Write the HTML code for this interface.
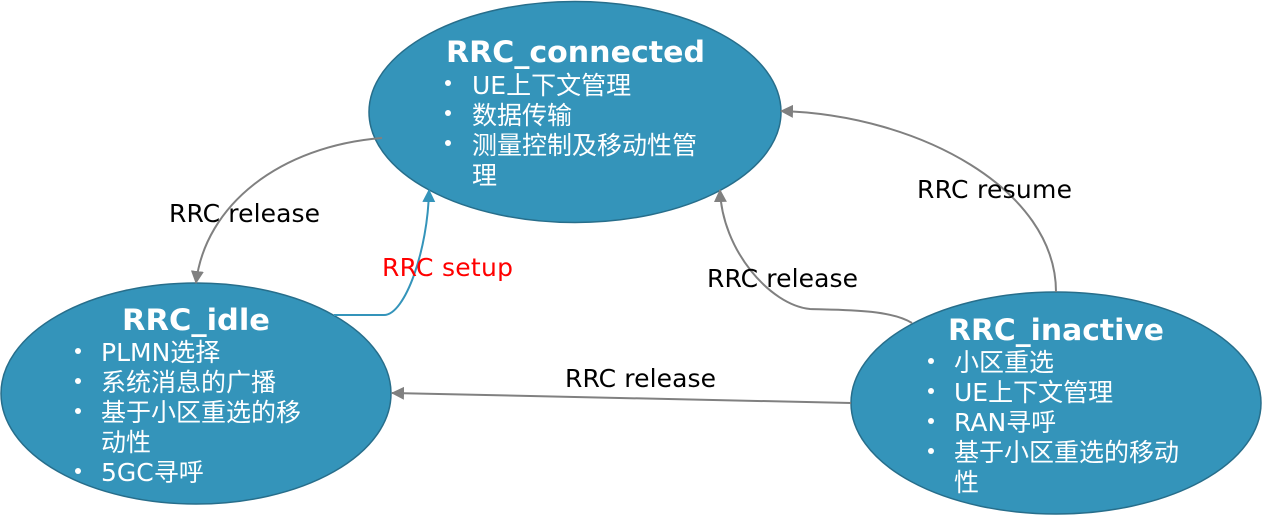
<!DOCTYPE html>
<html><head><meta charset="utf-8"><style>
html,body{margin:0;padding:0;background:#fff}
svg{display:block}
text{font-family:"DejaVu Sans","Noto Sans CJK SC",sans-serif;font-size:25px}
.t{fill:#fff;font-weight:bold;font-size:29.500px}
.b{fill:#fff}
.l{fill:#000}
</style></head><body>
<svg width="1262" height="515" viewBox="0 0 1262 515" xmlns="http://www.w3.org/2000/svg">
<defs>
<marker id="g" markerWidth="13" markerHeight="13" refX="12" refY="6.500" orient="auto" markerUnits="userSpaceOnUse"><path d="M0 0L13 6.500L0 13Z" fill="#808080"/></marker>
<marker id="c" markerWidth="13" markerHeight="13" refX="12" refY="6.500" orient="auto" markerUnits="userSpaceOnUse"><path d="M0 0L13 6.500L0 13Z" fill="#3494ba"/></marker>
</defs>
<ellipse cx="575" cy="112" rx="206" ry="110.500" fill="#3494ba" stroke="#276e8b" stroke-width="1.500"/>
<ellipse cx="196" cy="393.500" rx="195" ry="110.500" fill="#3494ba" stroke="#276e8b" stroke-width="1.500"/>
<ellipse cx="1056" cy="403" rx="205" ry="111" fill="#3494ba" stroke="#276e8b" stroke-width="1.500"/>
<path d="M382 138C280 146 205 205 196 283" fill="none" stroke="#808080" stroke-width="2" marker-end="url(#g)"/>
<path d="M334 315L384 315C405 315 428 250 429 190" fill="none" stroke="#3494ba" stroke-width="2" marker-end="url(#c)"/>
<path d="M912 323C890 309 840 310 810 309C770 305 722 250 720 190" fill="none" stroke="#808080" stroke-width="2" marker-end="url(#g)"/>
<path d="M1056 292C1056 190 920 115 781 111" fill="none" stroke="#808080" stroke-width="2" marker-end="url(#g)"/>
<path d="M851 403L392 393" fill="none" stroke="#808080" stroke-width="2" marker-end="url(#g)"/>
<text class="t" x="446" y="62" textLength="259" lengthAdjust="spacingAndGlyphs">RRC_connected</text>
<circle cx="448" cy="83" r="3" fill="#fff"/><text class="b" x="472" y="94">UE上下文管理</text>
<circle cx="448" cy="113" r="3" fill="#fff"/><text class="b" x="472" y="124">数据传输</text>
<circle cx="448" cy="143" r="3" fill="#fff"/><text class="b" x="472" y="154">测量控制及移动性管</text>
<text class="b" x="472" y="184">理</text>
<text class="t" x="122" y="330" textLength="148" lengthAdjust="spacingAndGlyphs">RRC_idle</text>
<circle cx="78" cy="351" r="3" fill="#fff"/><text class="b" x="101" y="361">PLMN选择</text>
<circle cx="78" cy="381" r="3" fill="#fff"/><text class="b" x="101" y="391">系统消息的广播</text>
<circle cx="78" cy="411" r="3" fill="#fff"/><text class="b" x="101" y="421">基于小区重选的移</text>
<text class="b" x="101" y="451">动性</text>
<circle cx="78" cy="471" r="3" fill="#fff"/><text class="b" x="101" y="481">5GC寻呼</text>
<text class="t" x="948" y="340" textLength="216" lengthAdjust="spacingAndGlyphs">RRC_inactive</text>
<circle cx="931" cy="361" r="3" fill="#fff"/><text class="b" x="954" y="371">小区重选</text>
<circle cx="931" cy="391" r="3" fill="#fff"/><text class="b" x="954" y="401">UE上下文管理</text>
<circle cx="931" cy="421" r="3" fill="#fff"/><text class="b" x="954" y="431">RAN寻呼</text>
<circle cx="931" cy="451" r="3" fill="#fff"/><text class="b" x="954" y="461">基于小区重选的移动</text>
<text class="b" x="954" y="491">性</text>
<text class="l" x="169" y="222" textLength="151">RRC release</text>
<text x="382" y="276" fill="#ff0000" textLength="131">RRC setup</text>
<text class="l" x="707" y="287" textLength="151">RRC release</text>
<text class="l" x="917" y="198" textLength="155">RRC resume</text>
<text class="l" x="565" y="387" textLength="151">RRC release</text>
</svg>
</body></html>
